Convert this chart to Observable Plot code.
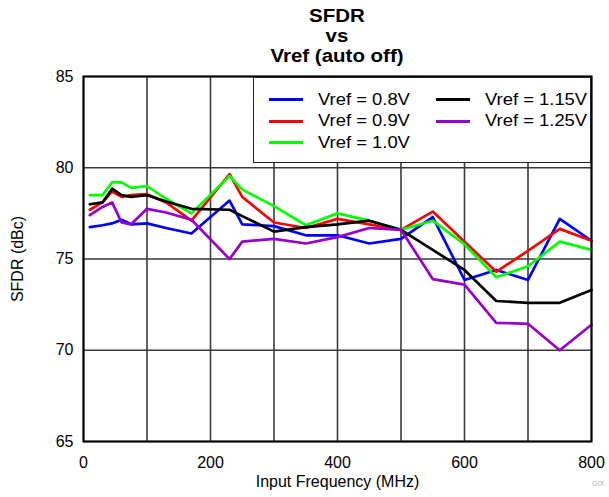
<!DOCTYPE html>
<html>
<head>
<meta charset="utf-8">
<script src="https://cdn.jsdelivr.net/npm/d3@7"></script>
<script src="https://cdn.jsdelivr.net/npm/@observablehq/plot@0.6"></script>
<style>
  body { margin: 0; background: #fff; font-family: "Liberation Sans", Arial, sans-serif; }
  #wrap { position: relative; width: 609px; height: 497px; overflow: hidden; }
  #title { position: absolute; left: 83px; width: 508px; top: 6px; text-align: center;
           font-weight: bold; font-size: 17.5px; line-height: 20px; transform: scaleX(1.17); transform-origin: center top; }
  #chart { position: absolute; left: 0; top: 66px; }
  #legend { position: absolute; left: 253px; top: 77px;
            border: 1.5px solid #222; background: #fff;
            display: grid; grid-template-columns: 167px auto; grid-template-rows: repeat(3, 21.5px);
            grid-auto-flow: column; padding: 11px 0 0 15px; box-sizing: border-box; width: 338px; height: 86px; }
  .item { display: flex; align-items: center; }
  .sw { width: 34px; height: 3px; margin-right: 15px; flex: none; }
  .lab { font-size: 16px; display: inline-block; transform: scaleX(1.15); transform-origin: left center; white-space: nowrap; }
  #mark { position: absolute; left: 592px; top: 480px; font-size: 7px; color: #b0b0b0; }
</style>
</head>
<body>
<div id="wrap">
  <div id="title">SFDR<br>vs<br>Vref (auto off)</div>
  <div id="chart"></div>
  <div id="legend"></div>
  <div id="mark">GIX</div>
</div>
<script>
const freq = [10, 30, 45, 60, 75, 100, 130, 170, 230, 250, 300, 350, 400, 450, 500, 550, 600, 650, 700, 750, 800];
const vref08  = [76.75, 76.85, 76.95, 77.15, 76.9, 76.95, 76.7, 76.4, 78.2, 76.9, 76.8, 76.3, 76.3, 75.85, 76.1, 77.3, 73.85, 74.4, 73.85, 77.2, 76.0];
const vref09  = [77.7, 78.1, 78.7, 78.4, 78.5, 78.55, 78.1, 77.1, 79.65, 78.4, 77.0, 76.7, 77.2, 76.9, 76.6, 77.6, 75.95, 74.3, 75.45, 76.65, 76.0];
const vref10  = [78.5, 78.5, 79.2, 79.2, 78.9, 79.0, 78.3, 77.5, 79.55, 78.8, 77.9, 76.85, 77.5, 77.1, 76.6, 77.1, 75.8, 74.0, 74.6, 75.95, 75.5];
const vref115 = [78.0, 78.1, 78.85, 78.5, 78.4, 78.5, 78.15, 77.75, 77.7, 77.35, 76.5, 76.75, 76.9, 77.1, 76.6, 75.5, 74.4, 72.7, 72.6, 72.6, 73.3];
const vref125 = [77.4, 77.85, 78.1, 77.0, 76.9, 77.75, 77.55, 77.15, 75.0, 75.95, 76.1, 75.85, 76.2, 76.7, 76.6, 73.9, 73.6, 71.5, 71.45, 70.0, 71.4];

const seriesNames  = ["Vref = 0.8V", "Vref = 0.9V", "Vref = 1.0V", "Vref = 1.15V", "Vref = 1.25V"];
const seriesColors = ["#0000ff", "#ff0000", "#00ff00", "#000000", "#9900cc"];
const seriesValues = [vref08, vref09, vref10, vref115, vref125];

const xTickLabels = [0, 200, 400, 600, 800];
const xGridLines  = [0, 100, 200, 300, 400, 500, 600, 700, 800];
const yTickLabels = [65, 70, 75, 80, 85];

const rows = seriesNames.flatMap((s, i) => freq.map((f, j) => ({ s, f, v: seriesValues[i][j] })));

const chart = Plot.plot({
  width: 609,
  height: 431,
  marginTop: 10,
  marginLeft: 83,
  marginRight: 18,
  marginBottom: 56,
  style: { fontFamily: "'Liberation Sans', Arial, sans-serif", fontSize: "16px", color: "#000", background: "#fff" },
  x: { domain: [0, 800] },
  y: { domain: [65, 85] },
  color: { domain: seriesNames, range: seriesColors },
  marks: [
    Plot.gridX(xGridLines, { stroke: "#3a3a3a", strokeOpacity: 1, strokeWidth: 1.6 }),
    Plot.gridY(yTickLabels, { stroke: "#3a3a3a", strokeOpacity: 1, strokeWidth: 1.6 }),
    Plot.line(rows, { x: "f", y: "v", z: "s", stroke: "s", strokeWidth: 2.7, strokeLinejoin: "round" }),
    Plot.frame({ stroke: "#000", strokeWidth: 2 }),
    Plot.axisX(xTickLabels, { tickSize: 0, tickPadding: 15, fontSize: 16,
      label: "Input Frequency (MHz)", labelAnchor: "center", labelArrow: "none", labelOffset: 45 }),
    Plot.axisY(yTickLabels, { tickSize: 0, tickPadding: 10, fontSize: 16,
      label: "SFDR (dBc)", labelAnchor: "center", labelArrow: "none", labelOffset: 72 })
  ]
});
document.getElementById("chart").appendChild(chart);

const legend = document.getElementById("legend");
seriesNames.forEach((name, i) => {
  const item = document.createElement("div");
  item.className = "item";
  const sw = document.createElement("span");
  sw.className = "sw";
  sw.style.background = seriesColors[i];
  const lab = document.createElement("span");
  lab.className = "lab";
  lab.textContent = name;
  item.appendChild(sw);
  item.appendChild(lab);
  legend.appendChild(item);
});
</script>
</body>
</html>
